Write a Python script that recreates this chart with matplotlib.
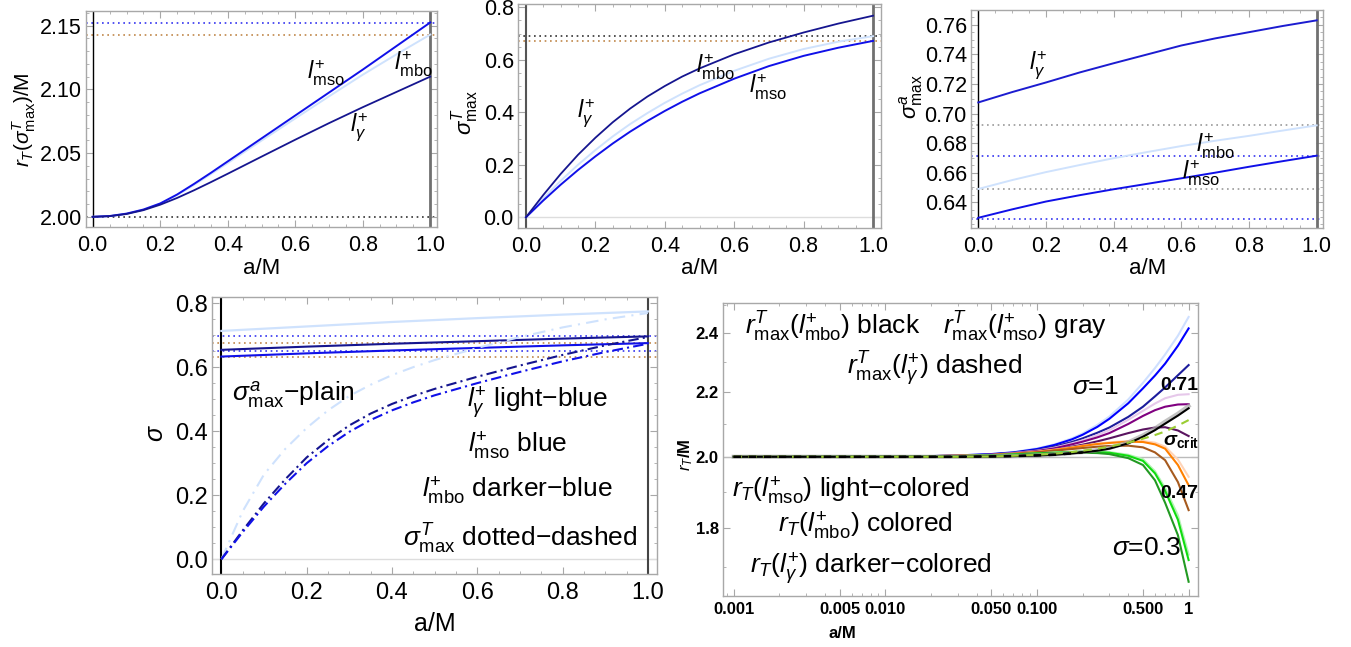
import matplotlib
matplotlib.use('Agg')
import matplotlib.pyplot as plt
from matplotlib.ticker import FixedLocator, MultipleLocator, NullFormatter, LogLocator

plt.rcParams['font.family'] = ['Liberation Sans', 'DejaVu Sans']
plt.rcParams['mathtext.fontset'] = 'custom'
plt.rcParams['mathtext.rm'] = 'Liberation Sans'
plt.rcParams['mathtext.it'] = 'Liberation Sans:italic'
plt.rcParams['mathtext.bf'] = 'Liberation Sans:bold'
try:
    plt.rcParams['mathtext.bfit'] = 'Liberation Sans:italic:bold'
except KeyError:
    pass

# ---- panel 1: r_T(sigma^T_max)/M ----
a1 = [0, 0.05, 0.1, 0.15, 0.2, 0.25, 0.3, 0.35, 0.4, 0.45, 0.5, 0.6, 0.7, 0.8, 0.9, 1.0]
p1_mso = [2.0, 2.0006, 2.0025, 2.0057, 2.0105, 2.0175, 2.0258, 2.0345, 2.0435, 2.0525,
          2.0615, 2.0795, 2.0975, 2.1155, 2.1340, 2.1525]
p1_mbo = [2.0, 2.0006, 2.0024, 2.0055, 2.0102, 2.0170, 2.0250, 2.0335, 2.0422, 2.0510,
          2.0598, 2.0772, 2.0945, 2.1115, 2.1275, 2.1430]
p1_gam = [2.0, 2.0005, 2.0022, 2.0052, 2.0095, 2.0148, 2.0208, 2.0272, 2.0338, 2.0405,
          2.0472, 2.0605, 2.0735, 2.0860, 2.0980, 2.1100]
p1_levels = [2.152, 2.143, 2.0]

# ---- panel 2: sigma^T_max ----
a2 = [0, 0.05, 0.1, 0.15, 0.2, 0.25, 0.3, 0.35, 0.4, 0.45, 0.5, 0.6, 0.7, 0.8, 0.9, 1.0]
p2_gam = [0, 0.085, 0.165, 0.238, 0.303, 0.362, 0.414, 0.46, 0.50, 0.536, 0.567,
          0.621, 0.666, 0.704, 0.738, 0.768]
p2_mso = [0, 0.064, 0.124, 0.18, 0.232, 0.281, 0.326, 0.367, 0.405, 0.44, 0.472,
          0.528, 0.576, 0.615, 0.646, 0.672]
p2_mbo = [0, 0.072, 0.139, 0.2, 0.256, 0.308, 0.355, 0.397, 0.436, 0.471, 0.503,
          0.558, 0.604, 0.641, 0.669, 0.69]
p2_levels = [0.692, 0.672]

# ---- panel 3: sigma^a_max ----
a3 = [0, 0.1, 0.2, 0.3, 0.4, 0.5, 0.6, 0.7, 0.8, 0.9, 1.0]
p3_gam = [0.7075, 0.7145, 0.721, 0.7278, 0.734, 0.740, 0.746, 0.7508, 0.755, 0.7592, 0.763]
p3_mbo = [0.649, 0.655, 0.6604, 0.6652, 0.6698, 0.674, 0.678, 0.6816, 0.6849, 0.6885, 0.692]
p3_mso = [0.6295, 0.6352, 0.6405, 0.6448, 0.6488, 0.6525, 0.6562, 0.660, 0.664, 0.6678, 0.6715]
p3_levels = [0.692, 0.671, 0.649, 0.629]

# ---- panel 4: sigma^a_max plain, sigma^T_max dot-dashed ----
a4s = [0, 0.2, 0.4, 0.6, 0.8, 1.0]
p4a_gam = [0.713, 0.727, 0.741, 0.753, 0.764, 0.774]
p4a_mbo = [0.654, 0.664, 0.673, 0.681, 0.689, 0.696]
p4a_mso = [0.633, 0.643, 0.652, 0.660, 0.668, 0.675]
a4 = [0, 0.05, 0.1, 0.15, 0.2, 0.25, 0.3, 0.35, 0.4, 0.45, 0.5, 0.6, 0.7, 0.8, 0.9, 1.0]
p4t_gam = [0, 0.15, 0.265, 0.345, 0.41, 0.465, 0.51, 0.545, 0.575, 0.6, 0.622,
           0.66, 0.694, 0.724, 0.749, 0.769]
p4t_mbo = [0, 0.09, 0.175, 0.25, 0.318, 0.372, 0.418, 0.455, 0.485, 0.51, 0.532,
           0.57, 0.605, 0.638, 0.668, 0.694]
p4t_mso = [0, 0.085, 0.165, 0.236, 0.30, 0.353, 0.398, 0.435, 0.465, 0.49, 0.512,
           0.55, 0.585, 0.618, 0.647, 0.673]
p4_levels = [0.696, 0.675, 0.651, 0.631]

# ---- panel 5: r_T/M, log-log ----
a5 = [0.001, 0.01, 0.02, 0.03, 0.05, 0.07, 0.1, 0.13, 0.17, 0.2, 0.25, 0.3, 0.4, 0.5, 0.6, 0.7, 0.85, 1.0]
r_s1_light = [2.0, 2.001, 2.002, 2.004, 2.008, 2.014, 2.025, 2.037, 2.055, 2.07, 2.096, 2.122,
              2.176, 2.23, 2.279, 2.325, 2.39, 2.457]
r_s1 = [2.0, 2.001, 2.002, 2.004, 2.008, 2.013, 2.023, 2.035, 2.052, 2.066, 2.09, 2.115,
        2.164, 2.212, 2.254, 2.294, 2.355, 2.416]
r_s1_dark = [2.0, 2.001, 2.002, 2.003, 2.007, 2.012, 2.02, 2.03, 2.044, 2.055, 2.072, 2.088,
             2.121, 2.153, 2.186, 2.215, 2.255, 2.289]
r_s071_light = [2.0, 2.001, 2.002, 2.003, 2.006, 2.011, 2.018, 2.027, 2.04, 2.049, 2.065, 2.08,
                2.112, 2.14, 2.163, 2.18, 2.191, 2.193]
r_s071 = [2.0, 2.001, 2.002, 2.003, 2.006, 2.01, 2.017, 2.025, 2.037, 2.045, 2.058, 2.071,
          2.099, 2.124, 2.142, 2.153, 2.16, 2.161]
r_s071_dark = [2.0, 2.001, 2.002, 2.003, 2.005, 2.009, 2.015, 2.021, 2.03, 2.036, 2.046, 2.055,
               2.071, 2.082, 2.088, 2.089, 2.079, 2.062]
r_max_mbo = [2.0, 2.0, 2.0, 2.0, 2.001, 2.002, 2.004, 2.006, 2.01, 2.013, 2.018, 2.024,
             2.04, 2.06, 2.08, 2.1, 2.125, 2.148]
r_max_mso = [2.0, 2.0, 2.0, 2.0, 2.001, 2.002, 2.004, 2.007, 2.011, 2.014, 2.02, 2.026,
             2.043, 2.064, 2.085, 2.106, 2.131, 2.155]
r_max_gam = [2.0, 2.0, 2.0, 2.0, 2.001, 2.003, 2.006, 2.009, 2.014, 2.018, 2.024, 2.03,
             2.042, 2.054, 2.065, 2.076, 2.094, 2.111]
r_s047_light = [2.0, 2.001, 2.002, 2.003, 2.005, 2.009, 2.015, 2.021, 2.028, 2.033, 2.039, 2.043,
                2.047, 2.047, 2.042, 2.03, 1.992, 1.942]
r_s047 = [2.0, 2.001, 2.002, 2.003, 2.005, 2.009, 2.014, 2.02, 2.027, 2.032, 2.038, 2.041,
          2.045, 2.044, 2.037, 2.024, 1.976, 1.918]
r_s047_dark = [2.0, 2.001, 2.002, 2.003, 2.005, 2.008, 2.013, 2.018, 2.023, 2.026, 2.03, 2.032,
               2.033, 2.028, 2.013, 1.99, 1.927, 1.849]
r_s03_light = [2.0, 2.001, 2.001, 2.002, 2.004, 2.007, 2.01, 2.013, 2.015, 2.016, 2.016, 2.014,
               2.006, 1.993, 1.958, 1.91, 1.835, 1.732]
r_s03 = [2.0, 2.001, 2.001, 2.002, 2.004, 2.007, 2.01, 2.012, 2.014, 2.015, 2.014, 2.012,
         2.003, 1.988, 1.952, 1.902, 1.823, 1.718]
r_s03_dark = [2.0, 2.001, 2.001, 2.002, 2.004, 2.006, 2.009, 2.011, 2.012, 2.012, 2.011, 2.008,
              1.996, 1.976, 1.932, 1.869, 1.782, 1.664]

x_ticks = [0.0, 0.2, 0.4, 0.6, 0.8, 1.0]
p5_xticks = [0.001, 0.005, 0.01, 0.05, 0.1, 0.5, 1]
p5_xlabels = ['0.001', '0.005', '0.010', '0.050', '0.100', '0.500', '1']
p5_yticks = [1.8, 2.0, 2.2, 2.4]

NAVY = '#15158f'
BLUE = '#1010e8'
LIGHT = '#cfe2fd'
DOTBLUE = '#3535f0'
DOTBROWN = '#c0874a'
FRAME = '#a8a8a8'

W, H = 1351, 647
fig = plt.figure(figsize=(W / 100, H / 100), dpi=100)


def px_axes(l, t, r, b):
    return fig.add_axes([l / W, 1 - b / H, (r - l) / W, (b - t) / H])


def ftext(x, y, s, **kw):
    kw.setdefault('va', 'center')
    fig.text(x / W, 1 - y / H, s, **kw)


def frame(ax, size=15.5):
    for s in ax.spines.values():
        s.set_color(FRAME)
        s.set_linewidth(1)
    ax.tick_params(which='both', direction='in', top=True, right=True,
                   color=FRAME, labelcolor='black')
    ax.tick_params(which='major', length=5, labelsize=size)
    ax.tick_params(which='minor', length=2.5)
    ax.tick_params(axis='x', which='major', pad=6)
    ax.tick_params(axis='y', which='major', pad=3)


def dotted(ax, y, color):
    ax.axhline(y, color=color, lw=1.2, ls=(0, (1, 2.2)), zorder=1)


lbl = 17

# ---------------- panel 1 ----------------
ax1 = px_axes(86, 11, 437, 227)
frame(ax1)
ax1.set_xlim(-0.02, 1.02)
ax1.set_ylim(1.992, 2.1615)
ax1.axvline(0, color='black', lw=1)
ax1.axvline(1, color='#707070', lw=2)
for y, c in zip(p1_levels, [DOTBLUE, DOTBROWN, '#333333']):
    dotted(ax1, y, c)
ax1.plot(a1, p1_mbo, color=LIGHT, lw=1.4)
ax1.plot(a1, p1_mso, color=BLUE, lw=1.4)
ax1.plot(a1, p1_gam, color=NAVY, lw=1.3)
ax1.set_xticks(x_ticks)
ax1.set_yticks([2.00, 2.05, 2.10, 2.15])
ax1.set_yticklabels(['2.00', '2.05', '2.10', '2.15'])
ax1.xaxis.set_minor_locator(MultipleLocator(0.05))
ax1.yaxis.set_minor_locator(MultipleLocator(0.01))
ftext(326, 73, r'$l^{+}_{\rm mso}$', fontsize=lbl, ha='center')
ftext(413, 64, r'$l^{+}_{\rm mbo}$', fontsize=lbl, ha='center')
ftext(359, 127, r'$l^{+}_{\gamma}$', fontsize=lbl, ha='center')
ftext(262, 268, 'a/M', fontsize=16, ha='center')
ftext(24, 120, r'$r_T(\sigma^{T}_{\rm max})/{\rm M}$', fontsize=15, ha='center', rotation=90)

# ---------------- panel 2 ----------------
ax2 = px_axes(518, 4, 881, 228)
frame(ax2)
ax2.set_xlim(-0.023, 1.023)
ax2.set_ylim(-0.041, 0.8126)
ax2.axhline(0, color='#dddddd', lw=1)
ax2.axvline(0, color='#555555', lw=1.5)
ax2.axvline(1, color='#707070', lw=2)
for y, c in zip(p2_levels, ['#333333', DOTBROWN]):
    dotted(ax2, y, c)
ax2.plot(a2, p2_mbo, color=LIGHT, lw=1.4)
ax2.plot(a2, p2_mso, color=BLUE, lw=1.4)
ax2.plot(a2, p2_gam, color=NAVY, lw=1.3)
ax2.set_xticks(x_ticks)
ax2.set_yticks([0.0, 0.2, 0.4, 0.6, 0.8])
ax2.xaxis.set_minor_locator(MultipleLocator(0.05))
ax2.yaxis.set_minor_locator(MultipleLocator(0.05))
ftext(586, 113, r'$l^{+}_{\gamma}$', fontsize=lbl, ha='center')
ftext(715, 67, r'$l^{+}_{\rm mbo}$', fontsize=lbl, ha='center')
ftext(768, 87, r'$l^{+}_{\rm mso}$', fontsize=lbl, ha='center')
ftext(700, 268, 'a/M', fontsize=16, ha='center')
ftext(465, 113, r'$\sigma^{T}_{\rm max}$', fontsize=16, ha='center', rotation=90)

# ---------------- panel 3 ----------------
ax3 = px_axes(971, 10, 1323, 228)
frame(ax3)
ax3.set_xlim(-0.0216, 1.0187)
ax3.set_ylim(0.6226, 0.770)
ax3.axvline(0, color='black', lw=1)
ax3.axvline(1, color='#707070', lw=2)
for y, c in zip(p3_levels, ['#999999', DOTBLUE, '#999999', DOTBLUE]):
    dotted(ax3, y, c)
ax3.plot(a3, p3_mbo, color=LIGHT, lw=1.4)
ax3.plot(a3, p3_mso, color=BLUE, lw=1.4)
ax3.plot(a3, p3_gam, color='#1c1cd0', lw=1.4)
ax3.set_xticks(x_ticks)
ax3.set_yticks([0.64, 0.66, 0.68, 0.70, 0.72, 0.74, 0.76])
ax3.set_yticklabels(['0.64', '0.66', '0.68', '0.70', '0.72', '0.74', '0.76'])
ax3.xaxis.set_minor_locator(MultipleLocator(0.05))
ax3.yaxis.set_minor_locator(MultipleLocator(0.005))
ftext(1038, 65, r'$l^{+}_{\gamma}$', fontsize=lbl, ha='center')
ftext(1215, 146, r'$l^{+}_{\rm mbo}$', fontsize=lbl, ha='center')
ftext(1201, 173, r'$l^{+}_{\rm mso}$', fontsize=lbl, ha='center')
ftext(1148, 268, 'a/M', fontsize=16, ha='center')
ftext(911, 97, r'$\sigma^{a}_{\rm max}$', fontsize=16, ha='center', rotation=90)

# ---------------- panel 4 ----------------
ax4 = px_axes(212, 297, 657, 574)
frame(ax4, 17)
ax4.set_xlim(-0.022, 1.0215)
ax4.set_ylim(-0.046, 0.819)
ax4.axhline(0, color='#dddddd', lw=1)
ax4.axvline(0, color='black', lw=1.5)
ax4.axvline(1, color='#444444', lw=1.5)
for y, c in zip(p4_levels, [DOTBLUE, DOTBROWN, DOTBLUE, DOTBROWN]):
    dotted(ax4, y, c)
ax4.plot(a4s, p4a_gam, color=LIGHT, lw=1.6)
ax4.plot(a4s, p4a_mbo, color=NAVY, lw=1.5)
ax4.plot(a4s, p4a_mso, color=BLUE, lw=1.5)
ax4.plot(a4, p4t_gam, color=LIGHT, lw=1.5, ls=(0, (6, 3, 1, 3)))
ax4.plot(a4, p4t_mbo, color=NAVY, lw=1.5, ls=(0, (5, 2, 1, 2)))
ax4.plot(a4, p4t_mso, color=BLUE, lw=1.5, ls=(0, (5, 2, 1, 2)))
ax4.set_xticks(x_ticks)
ax4.set_yticks([0.0, 0.2, 0.4, 0.6, 0.8])
ax4.xaxis.set_minor_locator(MultipleLocator(0.05))
ax4.yaxis.set_minor_locator(MultipleLocator(0.05))
ann = 19
ftext(232, 395, r'$\sigma^{a}_{\rm max}$' + '\u2212plain', fontsize=ann)
ftext(467, 403, r'$l^{+}_{\gamma}$' + ' light\u2212blue', fontsize=ann)
ftext(468, 446, r'$l^{+}_{\rm mso}$' + ' blue', fontsize=ann)
ftext(422, 491, r'$l^{+}_{\rm mbo}$' + ' darker\u2212blue', fontsize=ann)
ftext(403, 539, r'$\sigma^{T}_{\rm max}$' + ' dotted\u2212dashed', fontsize=ann)
ftext(435, 624, 'a/M', fontsize=18, ha='center')
ftext(156, 433, r'$\sigma$', fontsize=18, ha='center', rotation=90)

# ---------------- panel 5 ----------------
ax5 = px_axes(723, 303, 1198, 596)
frame(ax5, 12)
ax5.set_xscale('log')
ax5.set_yscale('log')
ax5.set_xlim(0.00085, 1.153)
ax5.set_ylim(1.6295, 2.508)
ax5.axhline(2.0, color='#bbbbbb', lw=1)
curves5 = [
    (r_s1_light, '#cfe0ff'), (r_s1, '#0000ff'), (r_s1_dark, '#1c1c9c'),
    (r_s071_light, '#e6c8ea'), (r_s071, '#800080'), (r_s071_dark, '#5a1460'),
    (r_s047_light, '#ffd4b8'), (r_s047, '#ff8000'), (r_s047_dark, '#a65a1e'),
    (r_s03_light, '#b4f2b4'), (r_s03, '#10dd10'), (r_s03_dark, '#229a22'),
]
for ys, c in curves5:
    ax5.plot(a5, ys, color=c, lw=1.5)
ax5.plot(a5, r_max_mso, color='#aaaaaa', lw=3, alpha=0.7)
ax5.plot(a5, r_max_mbo, color='black', lw=1.5)
ax5.plot(a5, r_max_gam, color='#9acd32', lw=1.5, ls=(0, (4, 3)))
ax5.plot(a5[:10], r_max_mbo[:10], color='black', lw=1.8, ls=(0, (3, 3)))
ax5.xaxis.set_major_locator(FixedLocator(p5_xticks))
ax5.xaxis.set_minor_locator(LogLocator(base=10, subs=(2, 3, 4, 6, 7, 8, 9), numticks=20))
ax5.xaxis.set_minor_formatter(NullFormatter())
ax5.set_xticklabels(p5_xlabels, fontweight='bold')
ax5.yaxis.set_major_locator(FixedLocator(p5_yticks))
ax5.yaxis.set_minor_locator(FixedLocator([1.7, 1.9, 2.1, 2.3, 2.5]))
ax5.yaxis.set_minor_formatter(NullFormatter())
ax5.set_yticklabels(['1.8', '2.0', '2.2', '2.4'], fontweight='bold')
ax5.tick_params(axis='x', which='major', pad=4)
big = 19
ftext(745, 327, r'$r^{T}_{\rm max}(l^{+}_{\rm mbo})$' + ' black', fontsize=big)
ftext(943, 327, r'$r^{T}_{\rm max}(l^{+}_{\rm mso})$' + ' gray', fontsize=big)
ftext(847, 369, r'$r^{T}_{\rm max}(l^{+}_{\gamma})$' + ' dashed', fontsize=big)
ftext(1072, 387, r'$\sigma$=1', fontsize=big)
ftext(1160, 385, '0.71', fontsize=14, fontweight='bold')
ftext(1163, 441, r'$\boldsymbol{\sigma}_{\bf crit}$', fontsize=14)
ftext(1160, 493, '0.47', fontsize=14, fontweight='bold')
ftext(1112, 548, r'$\sigma$=0.3', fontsize=big)
ftext(732, 491, r'$r_T(l^{+}_{\rm mso})$' + ' light\u2212colored', fontsize=big)
ftext(778, 526, r'$r_T(l^{+}_{\rm mbo})$' + ' colored', fontsize=big)
ftext(750, 569, r'$r_T(l^{+}_{\gamma})$' + ' darker\u2212colored', fontsize=big)
ftext(842, 634, 'a/M', fontsize=12, fontweight='bold', ha='center')
ftext(686, 455, r'$\boldsymbol{r_T}$/M', fontsize=12, fontweight='bold', ha='center', rotation=90)

fig.savefig('out.png', dpi=100)
